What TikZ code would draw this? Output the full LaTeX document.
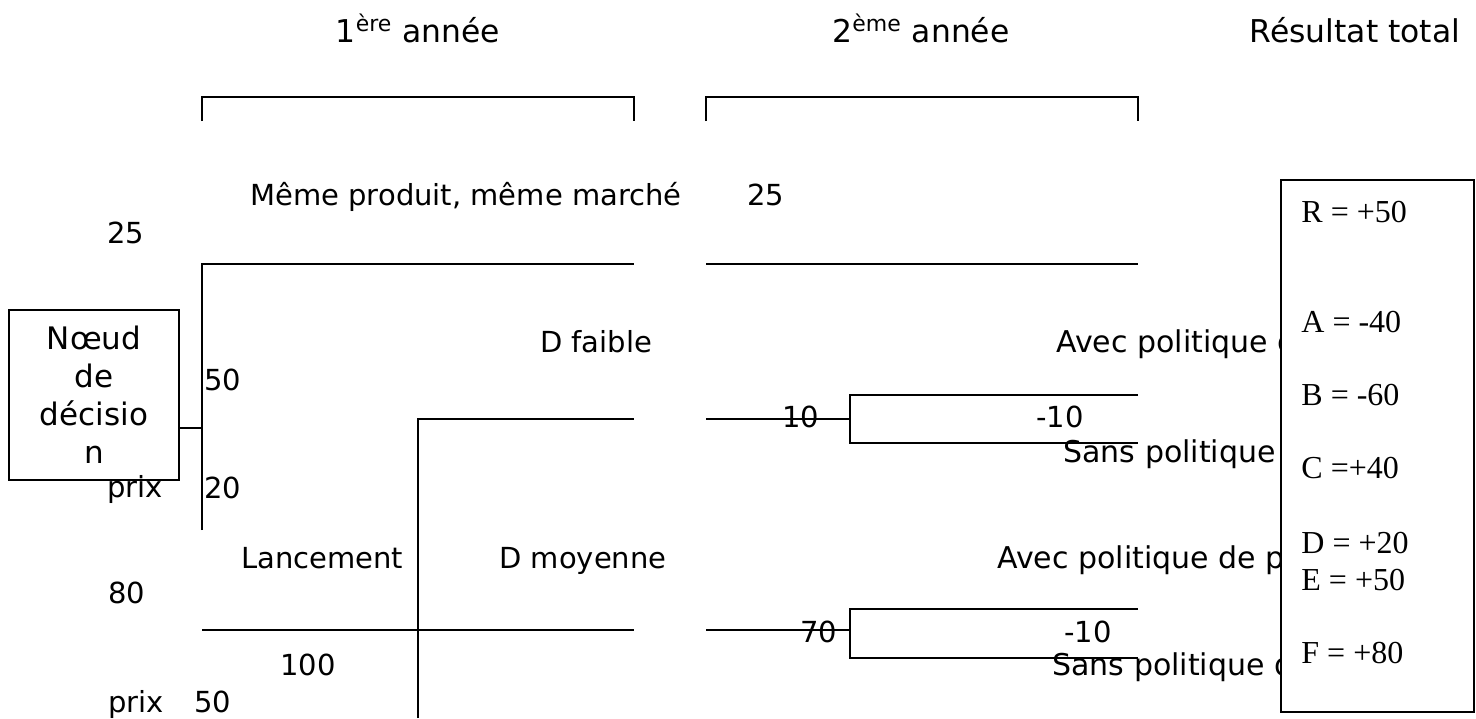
\documentclass[tikz,border=0pt]{standalone}
\usepackage{fontspec}
\setmainfont{DejaVu Sans}
\newfontfamily\resfont{Liberation Serif}
\usetikzlibrary{positioning}

\tikzset{
  txt/.style={inner sep=0pt,anchor=base west,font=\fontsize{14.5}{17}\selectfont},
  ctxt/.style={txt,anchor=base},
  pol/.style={txt,font=\fontsize{15}{18}\selectfont},
  head/.style={inner sep=0pt,anchor=base,font=\fontsize{15.7}{19}\selectfont},
  res/.style={inner sep=0pt,anchor=base west,font=\resfont\fontsize{16}{19}\selectfont},
  branch/.style={line width=1pt},
  box/.style={draw,line width=0.8pt,fill=white,inner sep=0pt}
}

\begin{document}
\begin{tikzpicture}[x=0.5pt,y=-0.5pt]
\useasboundingbox (0,0) rectangle (1476,718);

% column heads and year brackets
\node[head] (an1) at (418,42) {1\textsuperscript{ère} année};
\node[head] (an2) at (921,42) {2\textsuperscript{ème} année};
\node[head] (tot) at (1355,42) {Résultat total};
\draw[branch] (202,121) -- (202,97) -- (634,97) -- (634,121);
\draw[branch] (706,121) -- (706,97) -- (1138,97) -- (1138,121);

% decision node
\node[box,minimum width=85pt,minimum height=85pt,align=center,
      font=\fontsize{15.5}{19}\selectfont] (dec) at (94,395) {Nœud\\de\\décisio\\n};
\coordinate (j0) at (202,428);
\draw[line width=0.8pt] (dec.east |- j0) -- (j0);

% first option
\coordinate (t1) at (202,264);
\draw[branch] (202,530) -- (t1) -- (634,264);
\draw[branch] (706,264) -- (1138,264);
\node[ctxt] (prod) at (466,205) {Même produit, même marché};
\node[txt] (v25a) at (107,243) {25};
\node[txt] (v25b) at (747,205) {25};
\node[txt] (v50a) at (204,390) {50};
\node[txt] (v20) at (204,498) {20};
\node[txt] (prixa) at (107,497) {prix};

% launch, low demand
\coordinate (t2) at (418,419);
\draw[branch] (418,718) -- (t2) -- (634,419);
\coordinate (k1) at (850,419);
\draw[branch] (706,419) -- (k1);
\draw[branch] (1138,395) -- (850,395) -- (850,443) -- (1138,443);
\node[ctxt] (dfai) at (596,352) {D faible};
\node[txt] (v10) at (782,427) {10};
\node[txt] (m10a) at (1036,427) {-10};
\node[pol] (avec1) at (1056,352) {Avec politique de prix};
\node[pol] (sans1) at (1063,462) {Sans politique de prix};

% launch, medium demand
\coordinate (t3) at (202,630);
\draw[branch] (t3) -- (634,630);
\coordinate (k2) at (850,630);
\draw[branch] (706,630) -- (k2);
\draw[branch] (1138,609) -- (850,609) -- (850,658) -- (1138,658);
\node[txt] (lanc) at (241,568) {Lancement};
\node[ctxt] (dmoy) at (583,568) {D moyenne};
\node[txt] (v80) at (108,603) {80};
\node[txt] (v70) at (800,642) {70};
\node[txt] (m10b) at (1064,642) {-10};
\node[txt] (v100) at (280,675) {100};
\node[txt] (prixb) at (108,712) {prix};
\node[txt] (v50b) at (194,712) {50};
\node[pol] (avec2) at (997,568) {Avec politique de prix};
\node[pol] (sans2) at (1052,675) {Sans politique de prix};

% results
\node[box,minimum width=96.5pt,minimum height=266pt] (resbox) at (1377.5,446) {};
\node[res] (rR) at (1301,222) {R = +50};
\node[res] (rA) at (1301,332) {A = -40};
\node[res] (rB) at (1301,405) {B = -60};
\node[res] (rC) at (1301,478) {C =+40};
\node[res] (rD) at (1301,553) {D = +20};
\node[res] (rE) at (1301,590) {E = +50};
\node[res] (rF) at (1301,663) {F = +80};
\end{tikzpicture}
\end{document}
